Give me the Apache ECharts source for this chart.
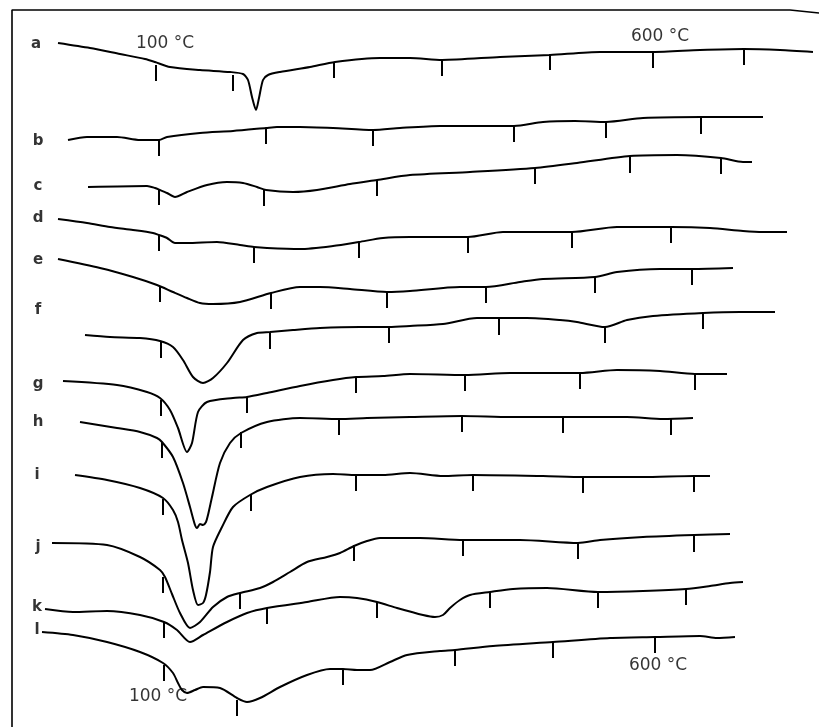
<!DOCTYPE html>
<html>
<head>
<meta charset="utf-8">
<script src="https://cdn.jsdelivr.net/npm/echarts@6/dist/echarts.min.js"></script>
<style>
  html, body { margin: 0; padding: 0; background: #fff; }
  #chart { width: 819px; height: 727px; }
</style>
</head>
<body>
<div id="chart"></div>
<script>
// curves traced from the sheet, [x, y] in sheet units (y grows downward)
var curveA = [[58,43],[90,48],[120,54],[145,59],[155,62],[170,67],[200,70],[230,72],[243,74],[248,80],[252,97],[256,110],[259,98],[263,80],[268,75],[280,72],[310,67],[335,62],[380,58],[410,58],[442,60],[500,57],[550,55],[600,52],[653,52],[700,50],[744,49],[780,50],[813,52]];
var curveB = [[68,140],[87,137],[117,137],[140,140],[159,140],[167,137],[200,133],[233,131],[266,128],[277,127],[300,127],[333,128],[373,130],[400,128],[440,126],[480,126],[514,126],[543,122],[575,121],[606,122],[643,118],[701,117],[730,117],[763,117]];
var curveC = [[88,187],[147,186],[155,188],[160,190],[167,193],[175,197],[187,192],[207,185],[227,182],[243,183],[257,187],[266,190],[293,192],[317,190],[350,184],[377,180],[410,175],[470,172],[535,168],[577,163],[630,156],[677,155],[721,158],[743,162],[752,162]];
var curveD = [[58,219],[87,223],[110,227],[133,230],[153,233],[159,235],[167,238],[175,243],[187,243],[217,242],[240,245],[254,247],[267,248],[300,249],[333,246],[359,242],[383,238],[410,237],[440,237],[468,237],[503,232],[540,232],[572,232],[617,227],[671,227],[710,228],[743,231],[763,232],[787,232]];
var curveE = [[58,259],[100,268],[133,277],[157,285],[173,292],[187,298],[200,303],[213,304],[240,302],[271,293],[300,287],[320,287],[350,289],[387,292],[410,291],[460,287],[486,287],[520,282],[543,279],[595,277],[617,272],[660,269],[692,269],[733,268]];
var curveF = [[85,335],[110,337],[140,338],[160,341],[173,347],[183,360],[193,377],[203,383],[213,378],[227,363],[243,340],[257,333],[270,332],[293,330],[320,328],[360,327],[389,327],[410,326],[443,324],[477,318],[499,318],[527,318],[560,320],[577,322],[605,327],[627,320],[653,316],[703,313],[740,312],[775,312]];
var curveG = [[63,381],[117,385],[147,392],[160,398],[170,410],[178,428],[187,452],[192,443],[198,412],[207,402],[233,398],[247,397],[267,393],[300,386],[333,380],[356,377],[383,376],[410,374],[465,375],[510,373],[580,373],[617,370],[660,371],[695,374],[727,374]];
var curveH = [[80,422],[117,428],[140,432],[157,438],[162,442],[173,457],[183,483],[190,507],[195,525],[197,528],[200,524],[203,525],[206,522],[208,515],[212,497],[220,463],[230,443],[241,433],[267,422],[300,418],[339,419],[367,418],[410,417],[462,416],[510,417],[563,417],[627,417],[663,419],[693,418]];
var curveI = [[75,475],[107,480],[140,488],[163,498],[173,510],[178,522],[182,540],[188,563],[193,590],[198,605],[203,603],[206,595],[210,572],[213,547],[222,527],[233,507],[250,495],[267,487],[300,477],[333,474],[356,475],[383,475],[410,473],[443,476],[473,475],[543,476],[583,477],[643,477],[694,476],[710,476]];
var curveJ = [[52,543],[107,545],[140,557],[160,570],[165,577],[172,594],[180,613],[190,628],[200,622],[213,607],[227,597],[240,593],[260,588],[273,582],[290,572],[307,562],[327,557],[340,553],[354,546],[367,541],[380,538],[420,538],[463,540],[520,540],[578,543],[600,540],[643,537],[694,535],[730,534]];
var curveK = [[45,609],[73,612],[107,611],[140,615],[164,622],[177,630],[190,642],[203,635],[227,622],[247,613],[267,608],[307,602],[340,597],[357,598],[377,602],[397,608],[423,615],[435,617],[443,615],[450,608],[460,600],[470,595],[490,592],[513,589],[547,588],[598,592],[643,591],[686,589],[710,586],[730,583],[743,582]];
var curveL = [[42,632],[73,635],[107,642],[140,652],[163,663],[173,673],[178,683],[182,690],[187,693],[195,690],[203,687],[220,688],[237,698],[247,702],[260,698],[280,687],[307,675],[330,669],[343,669],[357,670],[370,670],[390,662],[407,655],[440,651],[455,650],[493,646],[553,642],[610,638],[655,637],[700,636],[717,638],[735,637]];

// 100 degC tick marks on each curve, [x, y of curve at tick]
var ticksA = [[156,65],[233,75],[334,62],[442,60],[550,54],[653,52],[744,49]];
var ticksB = [[159,140],[266,128],[373,130],[514,126],[606,122],[701,118]];
var ticksC = [[159,189],[264,190],[377,180],[535,168],[630,157],[721,158]];
var ticksD = [[159,235],[254,247],[359,242],[468,237],[572,232],[671,227]];
var ticksE = [[160,286],[271,293],[387,292],[486,287],[595,277],[692,269]];
var ticksF = [[161,342],[270,333],[389,327],[499,319],[605,327],[703,313]];
var ticksG = [[161,400],[247,397],[356,377],[465,375],[580,373],[695,374]];
var ticksH = [[162,442],[241,432],[339,419],[462,416],[563,417],[671,419]];
var ticksI = [[163,499],[251,495],[356,475],[473,475],[583,477],[694,476]];
var ticksJ = [[163,577],[240,593],[354,545],[463,540],[578,543],[694,536]];
var ticksK = [[164,622],[267,608],[377,602],[490,592],[598,592],[686,589]];
var ticksL = [[164,665],[237,700],[343,669],[455,650],[553,642],[655,637]];

var curveNames = ['a','b','c','d','e','f','g','h','i','j','k','l'];
var curveLabelAt = [[36,44],[38,141],[38,186],[38,218],[38,260],[38,310],[38,384],[38,422],[37,475],[38,547],[37,607],[37,630]];
var tempLabels = [[165,44,'100 °C'],[660,37,'600 °C'],[158,697,'100 °C'],[658,666,'600 °C']];
var frame = [[12,727],[12,10],[790,10],[819,13]];

var curves = [curveA,curveB,curveC,curveD,curveE,curveF,curveG,curveH,curveI,curveJ,curveK,curveL];
var ticks = [ticksA,ticksB,ticksC,ticksD,ticksE,ticksF,ticksG,ticksH,ticksI,ticksJ,ticksK,ticksL];

var ink = '#000';
var series = [];

series.push({
  type: 'line', data: frame, symbol: 'none', silent: true,
  lineStyle: { color: ink, width: 1.6 }
});

curves.forEach(function (c, i) {
  series.push({
    name: curveNames[i], type: 'line', data: c, symbol: 'none',
    smooth: 0.25, lineStyle: { color: ink, width: 2 }
  });
});

var allTicks = [];
ticks.forEach(function (t) { allTicks = allTicks.concat(t); });
series.push({
  type: 'custom', data: allTicks,
  renderItem: function (params, api) {
    var p = api.coord([api.value(0), api.value(1)]);
    return {
      type: 'line',
      shape: { x1: p[0], y1: p[1], x2: p[0], y2: p[1] + 16 },
      style: { stroke: ink, lineWidth: 2 }
    };
  }
});

series.push({
  type: 'scatter', symbolSize: 0, silent: true,
  data: curveLabelAt.map(function (p, i) { return [p[0], p[1], curveNames[i]]; }),
  label: {
    show: true, position: 'inside', formatter: function (d) { return d.value[2]; },
    color: ink, fontSize: 15, fontWeight: 'bold', fontFamily: 'DejaVu Sans',
    textBorderWidth: 0, textBorderColor: 'transparent'
  }
});

series.push({
  type: 'scatter', symbolSize: 0, silent: true,
  data: tempLabels,
  label: {
    show: true, position: 'inside', formatter: function (d) { return d.value[2]; },
    color: ink, fontSize: 17, fontFamily: 'DejaVu Sans',
    textBorderWidth: 0, textBorderColor: 'transparent'
  }
});

var myChart = echarts.init(document.getElementById('chart'));
myChart.setOption({
  backgroundColor: '#fff',
  animation: false,
  grid: { left: 0, right: 0, top: 0, bottom: 0 },
  xAxis: { type: 'value', min: 0, max: 819, show: false },
  yAxis: { type: 'value', min: 0, max: 727, inverse: true, show: false },
  series: series
});
</script>
</body>
</html>
